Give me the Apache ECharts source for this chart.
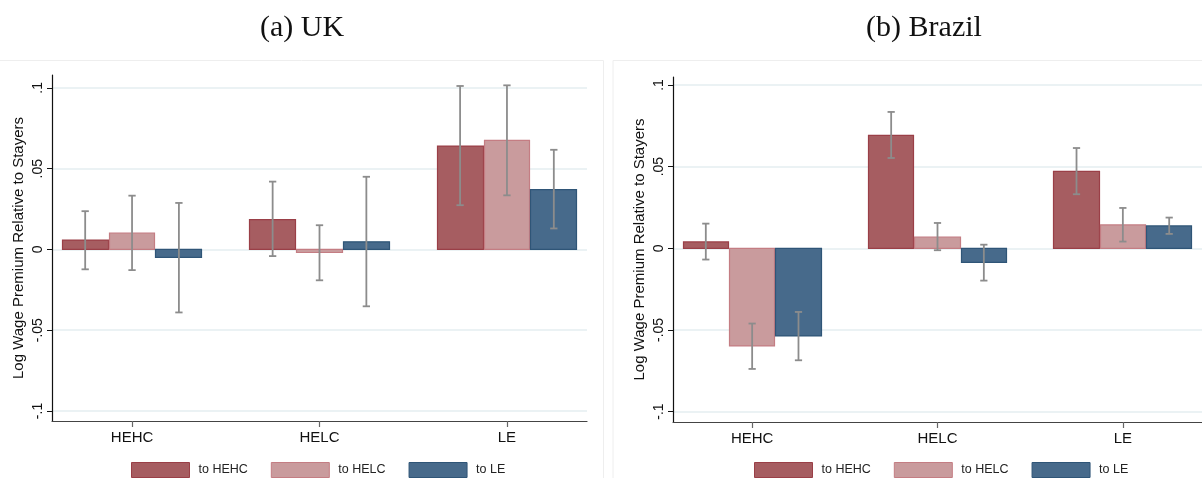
<!DOCTYPE html>
<html>
<head>
<meta charset="utf-8">
<script src="https://cdn.jsdelivr.net/npm/echarts@6/dist/echarts.min.js"></script>
<style>
html,body{margin:0;padding:0;background:#fff;}
#chart{width:1202px;height:478px;}
</style>
</head>
<body>
<div id="chart"></div>
<script>
// ---- data ----
const categories = ['HEHC', 'HELC', 'LE'];
const seriesNames = ['to HEHC', 'to HELC', 'to LE'];
const yTickValues = [-0.1, -0.05, 0, 0.05, 0.1];
const yTickLabels = ['-.1', '-.05', '0', '.05', '.1'];
const panelTitles = ['(a) UK', '(b) Brazil'];
const yAxisTitle = 'Log Wage Premium Relative to Stayers';

// UK
const ukToHEHC     = [0.0058, 0.0185, 0.0640];
const ukToHEHCLow  = [-0.0123, -0.0041, 0.0274];
const ukToHEHCHigh = [0.0237, 0.0420, 0.1012];
const ukToHELC     = [0.0101, -0.0019, 0.0675];
const ukToHELCLow  = [-0.0128, -0.0191, 0.0335];
const ukToHELCHigh = [0.0333, 0.0150, 0.1016];
const ukToLE       = [-0.0049, 0.0047, 0.0370];
const ukToLELow    = [-0.0390, -0.0352, 0.0130];
const ukToLEHigh   = [0.0288, 0.0450, 0.0617];

// Brazil
const brToHEHC     = [0.0039, 0.0692, 0.0471];
const brToHEHCLow  = [-0.0069, 0.0553, 0.0331];
const brToHEHCHigh = [0.0151, 0.0835, 0.0614];
const brToHELC     = [-0.0598, 0.0069, 0.0143];
const brToHELCLow  = [-0.0739, -0.0012, 0.0041];
const brToHELCHigh = [-0.0461, 0.0155, 0.0247];
const brToLE       = [-0.0537, -0.0086, 0.0137];
const brToLELow    = [-0.0686, -0.0198, 0.0088];
const brToLEHigh   = [-0.0390, 0.0022, 0.0188];

// ---- styling ----
const fills   = ['#a65d61', '#c99b9d', '#476a8b'];
const borders = ['#9a3f47', '#c47d83', '#2f5577'];
const errColor = '#8c8c8c';
const gridColor = '#e5eef0';
const sans = '"Liberation Sans", Arial, sans-serif';
const serif = '"Liberation Serif", "Times New Roman", serif';

function tickLabel(v) {
  for (let i = 0; i < yTickValues.length; i++) {
    if (Math.abs(v - yTickValues[i]) < 1e-9) return yTickLabels[i];
  }
  return '';
}

function buildData(vals, lows, highs) {
  return categories.map((c, i) => [i, vals[i], lows[i], highs[i]]);
}

function makeRender(k) {
  return function (params, api) {
    const cat = api.value(0), v = api.value(1), lo = api.value(2), hi = api.value(3);
    const xc = cat + (k - 1) * 0.25;
    const p0 = api.coord([xc - 0.125, 0]);
    const p1 = api.coord([xc + 0.125, v]);
    const pl = api.coord([xc, lo]);
    const ph = api.coord([xc, hi]);
    const cap = api.size([0.0195, 0])[0];
    const x = Math.round(p0[0]) + 0.5;
    const w = Math.round(p1[0]) - Math.round(p0[0]) - 1;
    const y = Math.min(p0[1], p1[1]);
    const h = Math.abs(p1[1] - p0[1]);
    const errStyle = { stroke: errColor, lineWidth: 1.8 };
    return {
      type: 'group',
      children: [
        { type: 'rect', shape: { x: x, y: y, width: w, height: h },
          style: { fill: fills[k], stroke: borders[k], lineWidth: 1.2 } },
        { type: 'line', shape: { x1: pl[0], y1: pl[1], x2: ph[0], y2: ph[1] }, style: errStyle },
        { type: 'line', shape: { x1: pl[0] - cap, y1: pl[1], x2: pl[0] + cap, y2: pl[1] }, style: errStyle },
        { type: 'line', shape: { x1: ph[0] - cap, y1: ph[1], x2: ph[0] + cap, y2: ph[1] }, style: errStyle }
      ]
    };
  };
}

const panels = [
  { grid: { left: 52, right: 615, top: 75, bottom: 57 }, ymin: -0.1062, ymax: 0.108,
    sets: [[ukToHEHC, ukToHEHCLow, ukToHEHCHigh], [ukToHELC, ukToHELCLow, ukToHELCHigh], [ukToLE, ukToLELow, ukToLEHigh]],
    titleX: 297, legendX: 131, frame: [-1, 60, 604, 430] },
  { grid: { left: 673, right: -7, top: 77, bottom: 56 }, ymin: -0.1064, ymax: 0.1049,
    sets: [[brToHEHC, brToHEHCLow, brToHEHCHigh], [brToHELC, brToHELCLow, brToHELCHigh], [brToLE, brToLELow, brToLEHigh]],
    titleX: 919, legendX: 754, frame: [612.5, 60, 600, 430] }
];

const option = {
  animation: false,
  backgroundColor: '#fff',
  graphic: panels.map(p => ({
    type: 'rect', silent: true, z: -10,
    shape: { x: p.frame[0] + 0.5, y: p.frame[1] + 0.5, width: p.frame[2], height: p.frame[3] },
    style: { fill: 'none', stroke: '#eeeeee', lineWidth: 1 }
  })),
  title: panels.map((p, i) => ({
    text: panelTitles[i], left: p.titleX, top: 6, textAlign: 'center',
    textStyle: { fontFamily: serif, fontSize: 30, fontWeight: 'normal', color: '#111', lineHeight: 34 }
  })),
  grid: panels.map(p => Object.assign({ containLabel: false }, p.grid)),
  xAxis: panels.map((p, i) => ({
    type: 'value', gridIndex: i, min: -0.427, max: 2.427,
    axisLine: { show: true, onZero: false, lineStyle: { color: '#444', width: 1.2 } },
    axisTick: { show: true, customValues: [0, 1, 2], length: 6, lineStyle: { color: '#666', width: 1.2 } },
    axisLabel: { show: true, customValues: [0, 1, 2], margin: 9,
      formatter: v => categories[Math.round(v)] || '',
      fontFamily: sans, fontSize: 15, color: '#111' },
    splitLine: { show: false }
  })),
  yAxis: panels.map((p, i) => ({
    type: 'value', gridIndex: i, min: p.ymin, max: p.ymax,
    name: yAxisTitle, nameLocation: 'middle', nameRotate: 90, nameGap: 26,
    nameTextStyle: { fontFamily: sans, fontSize: 15, color: '#111' },
    axisLine: { show: true, onZero: false, lineStyle: { color: '#111', width: 1.2 } },
    axisTick: { show: true, customValues: yTickValues, length: 5, lineStyle: { color: '#111', width: 1 } },
    axisLabel: { show: true, customValues: yTickValues, rotate: 90, margin: 7,
      formatter: tickLabel, fontFamily: sans, fontSize: 14, color: '#111' },
    splitLine: { show: true, lineStyle: { color: gridColor, width: 1.5 } }
  })),
  legend: panels.map(p => ({
    data: seriesNames.map((n, k) => ({ name: n, icon: 'rect',
      itemStyle: { color: fills[k], borderColor: borders[k], borderWidth: 1 } })),
    left: p.legendX, top: 462, padding: 0,
    itemWidth: 58, itemHeight: 15, itemGap: 23, selectedMode: false,
    textStyle: { fontFamily: sans, fontSize: 12.5, color: '#222', padding: [0, 0, 0, 4] }
  })),
  series: []
};

panels.forEach((p, i) => {
  p.sets.forEach((s, k) => {
    option.series.push({
      type: 'custom', name: seriesNames[k], xAxisIndex: i, yAxisIndex: i,
      itemStyle: { color: fills[k] },
      renderItem: makeRender(k),
      encode: { x: 0, y: 1 },
      data: buildData(s[0], s[1], s[2]),
      clip: false
    });
  });
});

const chart = echarts.init(document.getElementById('chart'), null, { renderer: 'canvas' });
chart.setOption(option);
</script>
</body>
</html>
